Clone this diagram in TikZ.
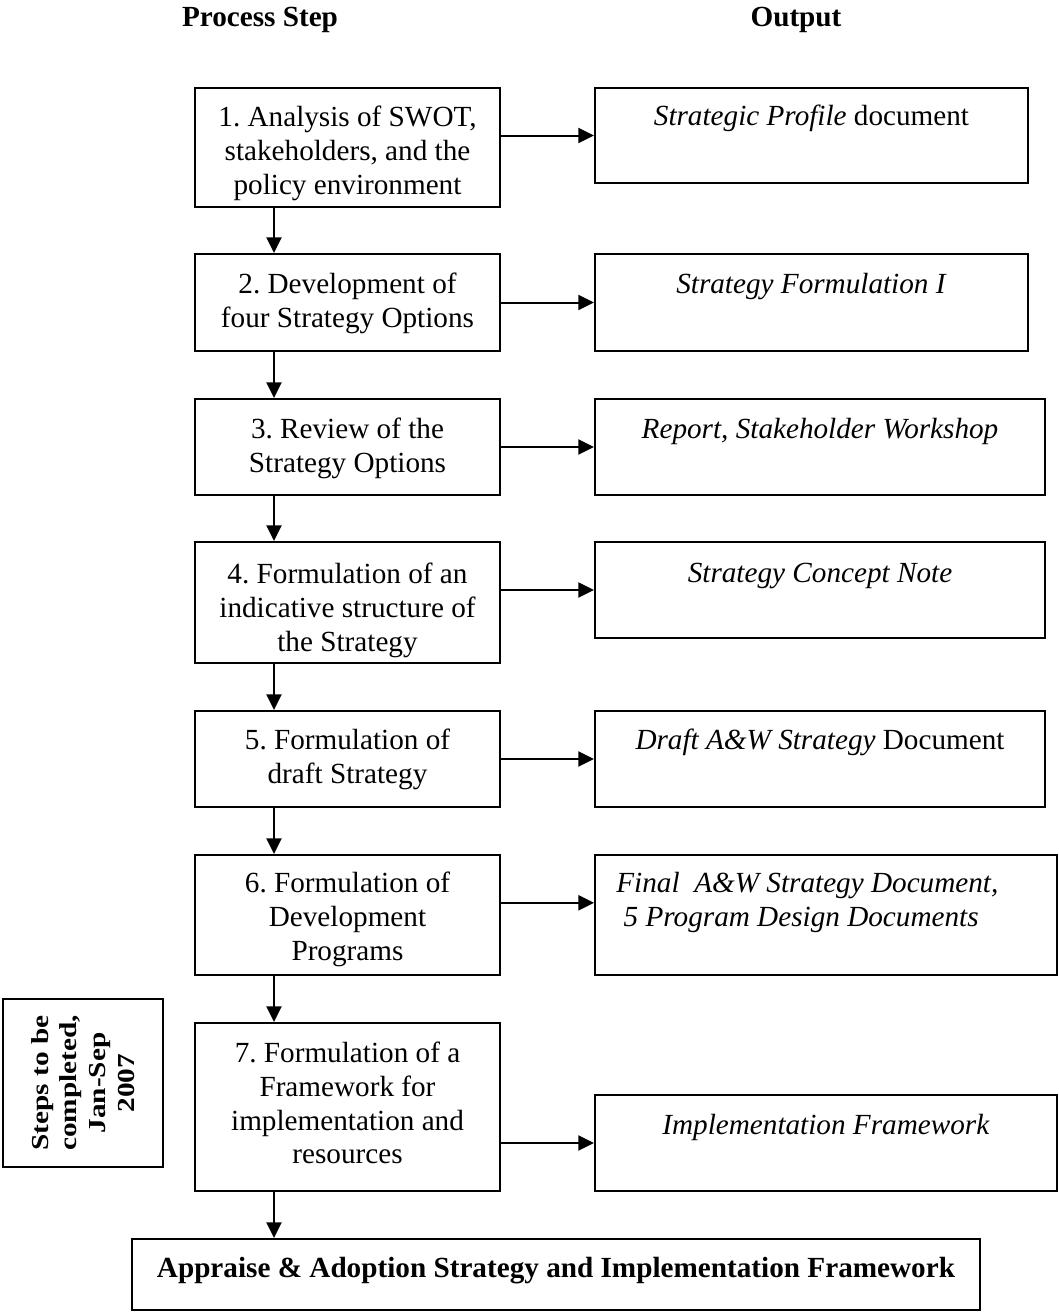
\documentclass[tikz,border=0pt]{standalone}
\usepackage{fontspec}
\setmainfont{Liberation Serif}
\newfontfamily\notefont[FakeStretch=1.2]{Liberation Serif}
\usetikzlibrary{arrows.meta,calc}
\frenchspacing

\begin{document}
\begin{tikzpicture}[x=0.5pt,y=-0.5pt,
  box/.style={draw, line width=1pt, inner sep=0pt, anchor=center},
  stepbox/.style={box, minimum width=152.5pt},
  outbox/.style={box},
  txt/.style={font=\fontsize{14.6}{16.8}\selectfont, align=center, inner sep=0pt, anchor=north},
  head/.style={font=\fontsize{14.6}{16.8}\selectfont\bfseries, inner sep=0pt},
  arr/.style={line width=1pt, -{Triangle[length=7.8pt,width=7.5pt]}},
]
% page frame
\useasboundingbox (0,0) rectangle (1059,1313);

% column headings
\node[head] (hstep) at (260,20) {Process Step};
\node[head] (hout) at (796,20) {Output};

% process steps
\node[stepbox, minimum height=59.5pt] (s1) at (347.5,147.5) {};
\node[stepbox, minimum height=48.5pt] (s2) at (347.5,302.5) {};
\node[stepbox, minimum height=48pt]   (s3) at (347.5,447) {};
\node[stepbox, minimum height=60.5pt] (s4) at (347.5,602.5) {};
\node[stepbox, minimum height=48pt]   (s5) at (347.5,759) {};
\node[stepbox, minimum height=60pt]   (s6) at (347.5,915) {};
\node[stepbox, minimum height=84pt]   (s7) at (347.5,1107) {};

\node[txt] (t1) at ($(s1.north)+(0,19)$) {1. Analysis of SWOT,\\stakeholders, and the\\policy environment};
\node[txt] (t2) at ($(s2.north)+(0,20)$) {2. Development of\\four Strategy Options};
\node[txt] (t3) at ($(s3.north)+(0,20)$) {3. Review of the\\Strategy Options};
\node[txt] (t4) at ($(s4.north)+(0,22)$) {4. Formulation of an\\indicative structure of\\the Strategy};
\node[txt] (t5) at ($(s5.north)+(0,19)$) {5. Formulation of\\draft Strategy};
\node[txt] (t6) at ($(s6.north)+(0,18)$) {6. Formulation of\\Development\\Programs};
\node[txt] (t7) at ($(s7.north)+(0,20)$) {7. Formulation of a\\Framework for\\implementation and\\resources};

% outputs
\node[outbox, minimum width=216.5pt, minimum height=47.5pt] (o1) at (811.5,135.5) {};
\node[outbox, minimum width=216.5pt, minimum height=48.5pt] (o2) at (811.5,302.5) {};
\node[outbox, minimum width=225pt, minimum height=48pt] (o3) at (820,447) {};
\node[outbox, minimum width=225pt, minimum height=48pt] (o4) at (820,590) {};
\node[outbox, minimum width=225pt, minimum height=48pt] (o5) at (820,759) {};
\node[outbox, minimum width=231pt, minimum height=60pt] (o6) at (826,915) {};
\node[outbox, minimum width=231pt, minimum height=48pt] (o7) at (826,1143) {};

\node[txt] (u1) at ($(o1.north)+(0,18)$) {\textit{Strategic Profile} document};
\node[txt] (u2) at ($(o2.north)+(0,20)$) {\textit{Strategy Formulation I}};
\node[txt] (u3) at ($(o3.north)+(0,20)$) {\textit{Report, Stakeholder Workshop}};
\node[txt] (u4) at ($(o4.north)+(0,22)$) {\textit{Strategy Concept Note}};
\node[txt] (u5) at ($(o5.north)+(0,19)$) {\textit{Draft A\&W Strategy} Document};
\node[txt, anchor=north west, align=left] (u6) at ($(o6.north west)+(22,18)$)
  {\textit{Final\ \ A\&W Strategy Document,}\\\hspace*{0.25em}\textit{5 Program Design Documents}};
\node[txt] (u7) at ($(o7.north)+(0,20)$) {\textit{Implementation Framework}};

% final stage
\node[box, minimum width=424pt, minimum height=35.5pt] (fin) at (556,1274.5) {};
\node[txt, font=\fontsize{14.6}{16.8}\selectfont\bfseries] (tf) at ($(fin.north)+(0,19)$)
  {Appraise \& Adoption Strategy and Implementation Framework};

% time-frame note
\node[box, minimum width=80pt, minimum height=84pt] (note) at (83,1083) {};
\node[font=\notefont\fontsize{12.2}{14.4}\selectfont\bfseries, align=center, inner sep=0pt, rotate=90]
  (tn) at (note.center) {Steps to be\\completed,\\Jan-Sep\\2007};

% flow between steps, along a line 80 units in from the left edge
\foreach \a/\b in {s1/s2,s2/s3,s3/s4,s4/s5,s5/s6,s6/s7,s7/fin}{
  \coordinate (from) at ($(\a.south west)+(80,0)$);
  \draw[arr] (from) -- (from |- \b.north);
}

% steps to outputs
\foreach \a/\b in {s1/o1,s2/o2,s3/o3,s4/o4,s5/o5,s7/o7}
  \draw[arr] (\a.east |- \b.west) -- (\b.west);
\coordinate (in6) at ($(o6.north west)!0.4!(o6.south west)$);
\draw[arr] (s6.east |- in6) -- (in6);
\end{tikzpicture}
\end{document}
